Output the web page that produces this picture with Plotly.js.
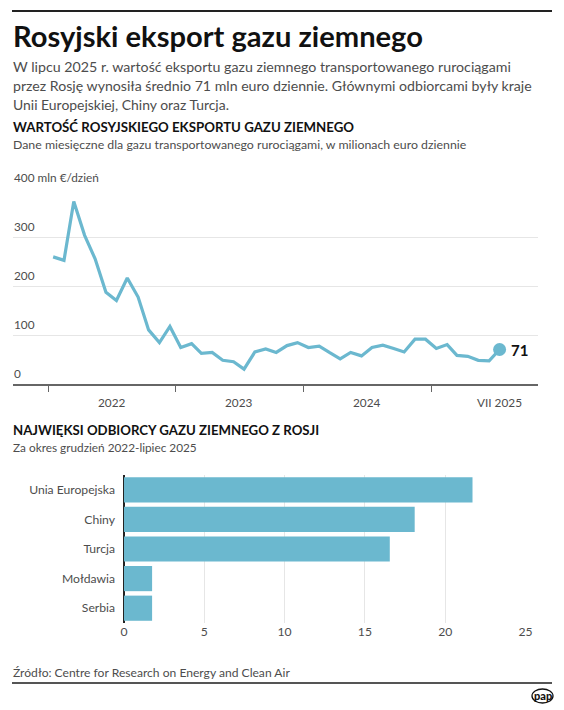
<!DOCTYPE html>
<html>
<head>
<meta charset="utf-8">
<script src="https://cdn.plot.ly/plotly-3.0.1.min.js"></script>
<style>
html,body{margin:0;padding:0;background:#fff;}
#chart{width:564px;height:710px;}
</style>
</head>
<body>
<div id="chart"></div>
<script>
// ---- DATA ----
const startYear = 2022;
const exports2022 = [260, 253, 373, 304, 256, 188, 171, 217, 178, 111, 85, 118];
const exports2023 = [75, 83, 63, 65, 49, 46, 31, 66, 72, 65, 79, 85];
const exports2024 = [75, 78, 65, 52, 65, 58, 75, 80, 73, 66, 92, 92];
const exports2025 = [73, 81, 59, 57, 49, 48, 71];

const yTickVals = [0, 100, 200, 300, 400];
const yTickText = ["0", "100", "200", "300", "400 mln €/dzień"];
const xYearTicks = ["2022-01-01", "2023-01-01", "2024-01-01", "2025-01-01"];
const xLabelText = ["2022", "2023", "2024", "VII 2025"];
const xLabelPos = ["2022-07-02", "2023-07-02", "2024-07-02", "2025-07-15"];

const buyers = ["Unia Europejska", "Chiny", "Turcja", "Mołdawia", "Serbia"];
const buyerValues = [21.7, 18.1, 16.55, 1.75, 1.75];
const barTickVals = [0, 5, 10, 15, 20, 25];

// ---- BUILD ----
const allValues = [].concat(exports2022, exports2023, exports2024, exports2025);
const dates = allValues.map((v, i) => {
  const y = startYear + Math.floor(i / 12);
  const m = (i % 12) + 1;
  return y + "-" + String(m).padStart(2, "0") + "-15";
});

const W = 564, H = 710;
const px = x => x / W;
const py = y => 1 - y / H;

const FAM = "Lato";
const FONT = "Lato, 'Noto Sans', sans-serif";
const BLUE = "#6bb8cf";
const GRAY = "#4d4d4d";

// font size that makes a text span a given width (matches the reference's text widths)
const ctx = document.createElement("canvas").getContext("2d");
function fit(text, weight, width) {
  ctx.font = weight + " 100px " + FAM;
  return 100 * width / ctx.measureText(text).width;
}

const lineTrace = {
  type: "scatter", mode: "lines",
  x: dates, y: allValues,
  line: {color: BLUE, width: 3.2},
  hoverinfo: "skip",
  xaxis: "x", yaxis: "y"
};
const lastTrace = {
  type: "scatter", mode: "markers",
  x: [dates[dates.length - 1]], y: [allValues[allValues.length - 1]],
  marker: {color: BLUE, size: 13},
  hoverinfo: "skip",
  xaxis: "x", yaxis: "y"
};
const barTrace = {
  type: "bar", orientation: "h",
  x: buyerValues, y: buyers,
  marker: {color: BLUE},
  hoverinfo: "skip",
  xaxis: "x2", yaxis: "y2"
};

const annotations = [];
function txt(text, y, width, opts) {
  opts = opts || {};
  const weight = opts.weight || 400;
  annotations.push({
    text: text, x: px(11), y: py(y), xref: "paper", yref: "paper",
    xanchor: "left", yanchor: "middle", showarrow: false,
    font: {family: FONT, size: fit(text, weight, width), color: opts.color || GRAY, weight: weight}
  });
}

txt("Rosyjski eksport gazu ziemnego", 35, 410, {color: "#111", weight: 700});
txt("W lipcu 2025 r. wartość eksportu gazu ziemnego transportowanego rurociągami", 66.5, 499);
txt("przez Rosję wynosiła średnio 71 mln euro dziennie. Głównymi odbiorcami były kraje", 85.5, 520);
txt("Unii Europejskiej, Chiny oraz Turcja.", 104, 217);
txt("WARTOŚĆ ROSYJSKIEGO EKSPORTU GAZU ZIEMNEGO", 127, 341, {color: "#111", weight: 700});
txt("Dane miesięczne dla gazu transportowanego rurociągami, w milionach euro dziennie", 145, 454);
txt("NAJWIĘKSI ODBIORCY GAZU ZIEMNEGO Z ROSJI", 430, 307, {color: "#111", weight: 700});
txt("Za okres grudzień 2022-lipiec 2025", 447, 184);
txt("Źródło: Centre for Research on Energy and Clean Air", 672, 278);

const axisSize = fit(yTickText[yTickText.length - 1], 400, 85);
// y tick labels of line chart
yTickVals.forEach((v, i) => {
  annotations.push({
    text: yTickText[i], x: px(12), y: v, xref: "paper", yref: "y",
    xanchor: "left", yanchor: "bottom", yshift: 1, showarrow: false,
    font: {family: FONT, size: axisSize, color: GRAY}
  });
});
// x labels of line chart
xLabelText.forEach((t, i) => {
  annotations.push({
    text: t, x: xLabelPos[i], y: py(402), xref: "x", yref: "paper",
    xanchor: "center", yanchor: "middle", showarrow: false,
    font: {family: FONT, size: axisSize, color: GRAY}
  });
});
// last value label
annotations.push({
  text: String(allValues[allValues.length - 1]),
  x: dates[dates.length - 1], y: allValues[allValues.length - 1],
  xref: "x", yref: "y", xanchor: "left", yanchor: "middle", xshift: 9,
  showarrow: false, font: {family: FONT, size: 15, color: "#111", weight: 700}
});
// logo
annotations.push({
  text: "pap", x: px(542.5), y: py(695.5), xref: "paper", yref: "paper",
  xanchor: "center", yanchor: "middle", showarrow: false,
  font: {family: FONT, size: 11, color: "#111", weight: 900}
});

const shapes = [
  {type: "line", xref: "paper", yref: "paper", x0: px(12), x1: px(552), y0: py(11), y1: py(11),
   line: {color: "#222", width: 2}},
  {type: "line", xref: "paper", yref: "paper", x0: px(12), x1: px(552), y0: py(683), y1: py(683),
   line: {color: "#555", width: 2}},
  {type: "circle", xref: "paper", yref: "paper", x0: px(532), x1: px(553), y0: py(703), y1: py(689),
   line: {color: "#111", width: 1.3}, fillcolor: "rgba(0,0,0,0)"}
];

const catSize = fit(buyers[0], 400, 86);

const layout = {
  width: W, height: H,
  margin: {l: 0, r: 0, t: 0, b: 0},
  paper_bgcolor: "#fff", plot_bgcolor: "#fff",
  showlegend: false,
  font: {family: FONT, color: GRAY},
  bargap: 0.15,
  xaxis: {
    domain: [px(13.3), px(537.7)], anchor: "y",
    type: "date", range: ["2021-09-23", "2025-11-01"],
    tickmode: "array", tickvals: xYearTicks, showticklabels: false,
    ticks: "outside", ticklen: 6, tickcolor: "#666", tickwidth: 1,
    showline: true, linecolor: "#666", linewidth: 1.5,
    showgrid: false, zeroline: false, fixedrange: true
  },
  yaxis: {
    domain: [py(384.3), py(188.3)], anchor: "x",
    range: [0, 400], tickmode: "array", tickvals: yTickVals,
    showticklabels: false, ticks: "",
    showgrid: true, gridcolor: "#e6e6e6", gridwidth: 1,
    zeroline: false, fixedrange: true
  },
  xaxis2: {
    domain: [px(124), px(525.5)], anchor: "y2",
    range: [0, 25], tickmode: "array", tickvals: barTickVals,
    showgrid: true, gridcolor: "#e6e6e6", gridwidth: 1,
    zeroline: true, zerolinecolor: "#222", zerolinewidth: 1.5,
    ticks: "", tickfont: {family: FONT, size: catSize, color: GRAY},
    showline: false, fixedrange: true
  },
  yaxis2: {
    domain: [py(623), py(475)], anchor: "x2",
    type: "category", autorange: "reversed",
    ticks: "", ticklabelstandoff: 8,
    tickfont: {family: FONT, size: catSize, color: GRAY},
    showgrid: false, zeroline: false, showline: false, fixedrange: true
  },
  annotations: annotations,
  shapes: shapes
};

Plotly.newPlot("chart", [lineTrace, lastTrace, barTrace], layout, {displayModeBar: false, staticPlot: true});
</script>
</body>
</html>
